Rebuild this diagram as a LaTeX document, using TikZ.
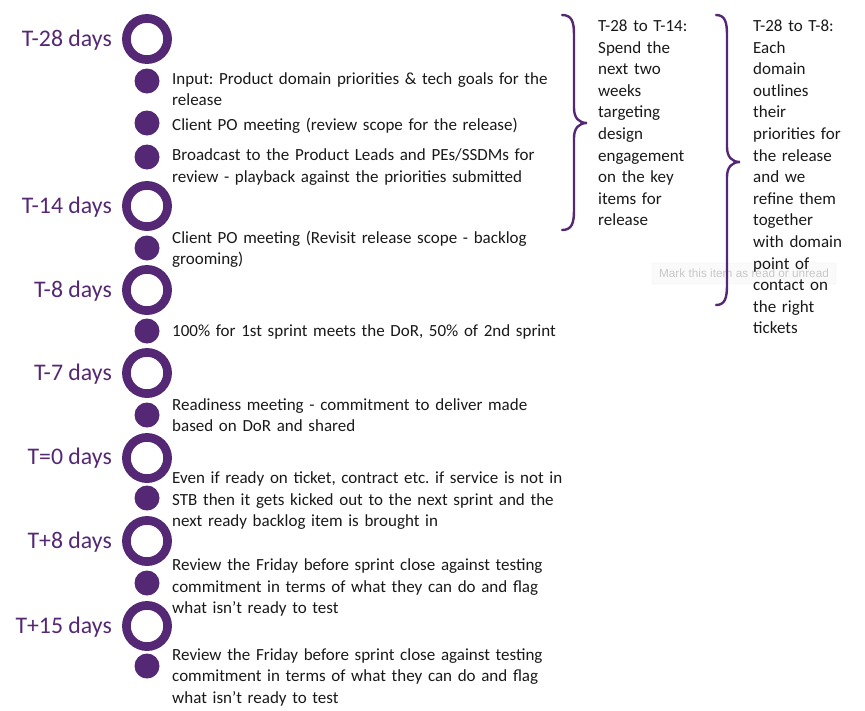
\documentclass[tikz,border=0pt]{standalone}
\usepackage{fontspec}
\setmainfont{Carlito}
\newfontfamily\tipfont{Liberation Sans}
\definecolor{tlpurple}{RGB}{84,40,116}
\definecolor{tltext}{RGB}{25,25,25}
\definecolor{tipgray}{RGB}{200,200,200}
\definecolor{tipfill}{RGB}{250,250,250}
\definecolor{tipline}{RGB}{238,238,238}
\begin{document}
\frenchspacing
\begin{tikzpicture}[x=1pt,y=-1pt,
  ring/.style={circle,draw=tlpurple,line width=8.7pt,minimum size=41.2pt,inner sep=0pt},
  dot/.style={circle,fill=tlpurple,minimum size=25pt,inner sep=0pt},
  daylabel/.style={anchor=base east,inner sep=0pt,text=tlpurple,font=\fontsize{23.8}{28}\selectfont},
  desc/.style={anchor=base west,inner sep=0pt,text=tltext,text width=430pt,align=left,font=\fontsize{17}{21.6}\selectfont},
  side/.style={anchor=base west,inner sep=0pt,text=tltext,text width=110pt,align=left,font=\fontsize{17}{21.6}\selectfont},
  bracestyle/.style={draw=tlpurple,line width=2.4pt,line cap=round}]
\useasboundingbox (0,0) rectangle (865,710);
% tooltip (faint)
\node (tip) [draw=tipline,fill=tipfill,rounded corners=2pt,minimum width=184pt,minimum height=21pt,inner sep=0pt,text=tipgray,font=\tipfont\fontsize{11.8}{13}\selectfont] at (744,273.5) {Mark this item as read or unread};
% rings
\node (r1) [ring] at (147,39) {};
\node (r2) [ring] at (147,206) {};
\node (r3) [ring] at (147,290) {};
\node (r4) [ring] at (147,373) {};
\node (r5) [ring] at (147,458) {};
\node (r6) [ring] at (147,541) {};
\node (r7) [ring] at (147,626) {};
% dots
\node (d1) [dot] at (147,81) {};
\node (d2) [dot] at (147,123) {};
\node (d3) [dot] at (147,157) {};
\node (d4) [dot] at (147,248) {};
\node (d5) [dot] at (147,331) {};
\node (d6) [dot] at (147,415) {};
\node (d7) [dot] at (147,498) {};
\node (d8) [dot] at (147,583) {};
\node (d9) [dot] at (147,666) {};
% day labels
\node (l1) [daylabel] at (112,46) {T-28 days};
\node (l2) [daylabel] at (112,213) {T-14 days};
\node (l3) [daylabel] at (112,297) {T-8 days};
\node (l4) [daylabel] at (112,380) {T-7 days};
\node (l5) [daylabel] at (112,464) {T=0 days};
\node (l6) [daylabel] at (112,548) {T+8 days};
\node (l7) [daylabel] at (112,633) {T+15 days};
% descriptions
\node (t1) [desc] at (172,84) {Input: Product domain priorities \& tech goals for the\\release};
\node (t2) [desc] at (172,130) {Client PO meeting (review scope for the release)};
\node (t3) [desc] at (172,160.5) {Broadcast to the Product Leads and PEs/SSDMs for\\review - playback against the priorities submitted};
\node (t4) [desc] at (172,243) {Client PO meeting (Revisit release scope - backlog\\grooming)};
\node (t5) [desc] at (172,336.5) {100\% for 1st sprint meets the DoR, 50\% of 2nd sprint};
\node (t6) [desc] at (172,410) {Readiness meeting - commitment to deliver made\\based on DoR and shared};
\node (t7) [desc] at (172,483.5) {Even if ready on ticket, contract etc. if service is not in\\STB then it gets kicked out to the next sprint and the\\next ready backlog item is brought in};
\node (t8) [desc] at (172,570.5) {Review the Friday before sprint close against testing\\commitment in terms of what they can do and flag\\what isn’t ready to test};
\node (t9) [desc] at (172,660) {Review the Friday before sprint close against testing\\commitment in terms of what they can do and flag\\what isn’t ready to test};
% braces
\draw[bracestyle] (562,15) .. controls (572,15) and (574,22) .. (574,35) -- (574,108)
  .. controls (574,118) and (579,123) .. (587,123)
  .. controls (579,123) and (574,128) .. (574,138) -- (574,210)
  .. controls (574,223) and (572,230) .. (562,230);
\draw[bracestyle] (716,15) .. controls (725,15) and (727,22) .. (727,35) -- (727,147)
  .. controls (727,157) and (732,162) .. (740,162)
  .. controls (732,162) and (727,167) .. (727,177) -- (727,285)
  .. controls (727,298) and (725,305) .. (716,305);
% side texts
\node (s1) [side] at (598,31.5) {T-28 to T-14:\\Spend the\\next two\\weeks\\targeting\\design\\engagement\\on the key\\items for\\release};
\node (s2) [side] at (753,31.5) {T-28 to T-8:\\Each\\domain\\outlines\\their\\priorities for\\the release\\and we\\refine them\\together\\with domain\\point of\\contact on\\the right\\tickets};
\end{tikzpicture}
\end{document}
